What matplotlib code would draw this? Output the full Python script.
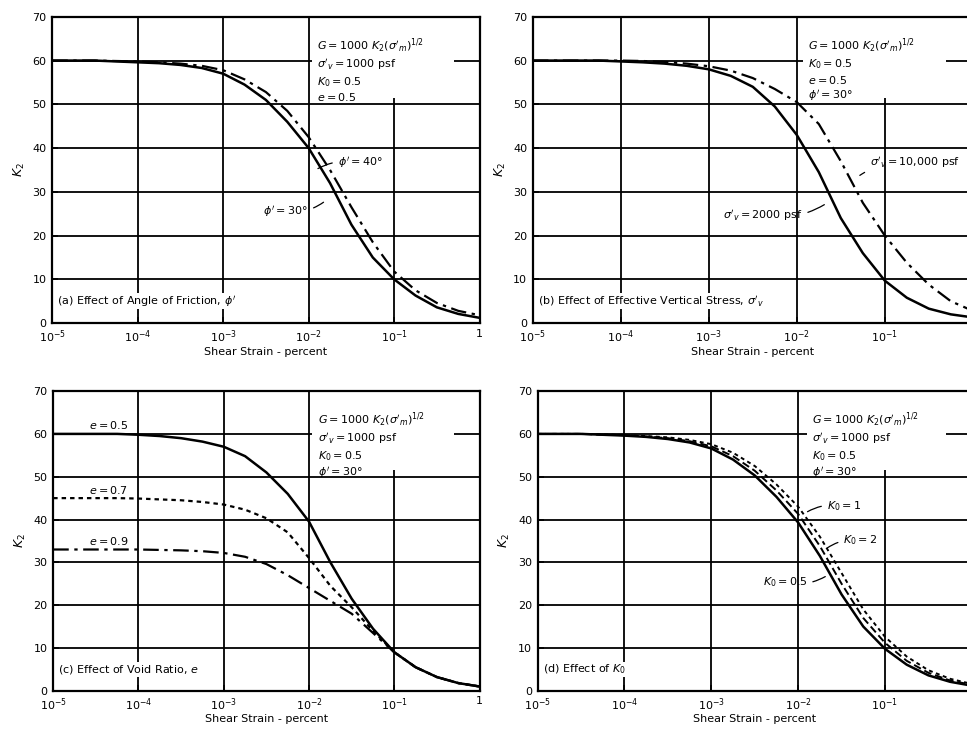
# -*- coding: utf-8 -*-
# K2 versus shear strain, four parametric panels

from matplotlib import pyplot as plt
from matplotlib.patches import Rectangle

# shear strain exponents (percent = 10**x)
log_strain = [-5, -4.75, -4.5, -4.25, -4, -3.75, -3.5, -3.25, -3, -2.75, -2.5,
              -2.25, -2, -1.75, -1.5, -1.25, -1, -0.75, -0.5, -0.25, 0]

# (a) angle of friction
k2_phi30 = [60, 60, 60, 59.8, 59.6, 59.4, 59, 58.3, 57, 54.5, 51, 46, 40, 32,
            22.5, 15, 10, 6.3, 3.6, 2.1, 1.2]
k2_phi40 = [60, 60, 60, 59.9, 59.8, 59.6, 59.3, 58.8, 57.8, 55.7, 52.8, 48.5,
            42.5, 35, 26.5, 18.5, 11.8, 7.5, 4.6, 2.8, 1.8]

# (b) effective vertical stress
k2_sv2000 = [60, 60, 60, 60, 59.8, 59.6, 59.3, 58.8, 58, 56.5, 54, 49.5, 43,
             34.5, 24, 16, 9.7, 5.8, 3.3, 2, 1.3]
k2_sv10000 = [60, 60, 60, 60, 60, 59.9, 59.7, 59.3, 58.7, 57.7, 56, 53.5, 50.5,
              45.5, 37, 27.5, 20, 13.8, 8.8, 5, 2.8]

# (c) void ratio
k2_e05 = [60, 60, 60, 60, 59.8, 59.5, 59, 58.2, 57, 54.8, 51, 46, 39.5, 30,
          21.5, 14.5, 9, 5.5, 3.2, 1.8, 1]
k2_e07 = [45, 45, 45, 45, 44.9, 44.7, 44.5, 44.1, 43.5, 42.3, 40.3, 37, 31,
          24.5, 19.5, 14, 9, 5.5, 3.2, 1.8, 1]
k2_e09 = [33, 33, 33, 33, 33, 32.9, 32.8, 32.6, 32.2, 31.3, 29.6, 27, 24, 21,
          18, 13.5, 9, 5.5, 3.2, 1.8, 1]

# (d) K0
k2_k05 = [60, 60, 60, 59.8, 59.6, 59.3, 58.8, 58, 56.6, 54, 50.3, 45.3, 39.3,
          31.5, 22.5, 15, 9.8, 6.1, 3.6, 2.1, 1.2]
k2_k1 = [60, 60, 60, 59.8, 59.7, 59.4, 59, 58.3, 57.1, 54.8, 51.4, 46.8, 41.3,
         33.8, 25, 17, 11.2, 7, 4.2, 2.4, 1.4]
k2_k2 = [60, 60, 60, 59.9, 59.7, 59.5, 59.2, 58.6, 57.6, 55.6, 52.5, 48.2, 43,
         36, 27.5, 19, 12.6, 8, 4.8, 2.8, 1.6]

xtick_exp = [-5, -4, -3, -2, -1, 0]
xtick_labels = ['$10^{-5}$', '$10^{-4}$', '$10^{-3}$', '$10^{-2}$', '$10^{-1}$', '1']
yticks = [0, 10, 20, 30, 40, 50, 60, 70]

G_TXT = r"$G = 1000\ K_2(\sigma'_m)^{1/2}$"
SV_TXT = r"$\sigma'_v = 1000$ psf"
K0_TXT = r"$K_0 = 0.5$"
E_TXT = r"$e = 0.5$"
PHI_TXT = r"$\phi' = 30°$"

DASHDOT = (0, (7, 2.5, 1.5, 2.5))
DOTTED = (0, (2, 1.8))
DASHED = (0, (4, 2))


def setup_axes(ax, show_one=True):
    ax.set_xscale('log')
    ax.set_xlim(1e-5, 1)
    ax.set_ylim(0, 70)
    ax.set_xticks([10.0 ** e for e in xtick_exp])
    labels = list(xtick_labels)
    if not show_one:
        labels[-1] = ''
    ax.set_xticklabels(labels)
    ax.xaxis.set_minor_locator(plt.NullLocator())
    ax.set_yticks(yticks)
    ax.tick_params(direction='in', length=4, width=1.2, labelsize=8)
    ax.tick_params(axis='x', pad=4)
    ax.tick_params(axis='y', pad=4)
    ax.grid(color='black', linewidth=1.3)
    for sp in ax.spines.values():
        sp.set_linewidth(1.6)
    ax.set_xlabel('Shear Strain - percent', fontsize=8, labelpad=1)
    ax.set_ylabel('$K_2$', fontsize=9, labelpad=4)


def params(ax, lines, xlog):
    # white patch breaks the grid behind the parameter block
    ax.add_patch(Rectangle((10.0 ** (xlog - 0.06), 51.5),
                           10.0 ** (-0.3) - 10.0 ** (xlog - 0.06), 18.3,
                           facecolor='white', edgecolor='none', zorder=2.5))
    ax.text(10.0 ** xlog, 65.5, '\n'.join(lines), fontsize=8, va='top',
            ha='left', linespacing=1.25, zorder=3)


def label(ax, text, xy_exp, txt_exp, ha='left'):
    ax.annotate(text, xy=(10.0 ** xy_exp[0], xy_exp[1]),
                xytext=(10.0 ** txt_exp[0], txt_exp[1]), fontsize=8,
                ha=ha, va='center', zorder=4,
                arrowprops=dict(arrowstyle='-', lw=0.9, color='black',
                                connectionstyle='arc3,rad=0.2'))


def caption(ax, text):
    ax.text(1.15e-5, 5, text, fontsize=8, va='center', ha='left', zorder=4,
            bbox=dict(facecolor='white', edgecolor='none', pad=0.5))


fig = plt.figure(figsize=(9.67, 7.31), dpi=100)
strain = [10.0 ** e for e in log_strain]

# (a)
ax = fig.add_axes([0.054, 0.558, 0.442, 0.419])
setup_axes(ax)
ax.plot(strain, k2_phi30, color='black', lw=1.8, zorder=3)
ax.plot(strain, k2_phi40, color='black', lw=1.6, ls=DASHDOT, zorder=3)
params(ax, [G_TXT, SV_TXT, K0_TXT, E_TXT], -1.9)
label(ax, r"$\phi' = 40°$", (-1.92, 35), (-1.66, 36.6))
label(ax, r"$\phi' = 30°$", (-1.80, 28), (-2.53, 25.4))
caption(ax, r"(a) Effect of Angle of Friction, $\phi'$")

# (b)
ax = fig.add_axes([0.551, 0.558, 0.455, 0.419])
setup_axes(ax, show_one=False)
ax.plot(strain, k2_sv2000, color='black', lw=1.8, zorder=3)
ax.plot(strain, k2_sv10000, color='black', lw=1.6, ls=DASHDOT, zorder=3)
params(ax, [G_TXT, K0_TXT, E_TXT, PHI_TXT], -1.87)
label(ax, r"$\sigma'_v = 10{,}000$ psf", (-1.31, 33.4), (-1.17, 36.6))
label(ax, r"$\sigma'_v = 2000$ psf", (-1.66, 27.4), (-2.84, 24.7))
caption(ax, r"(b) Effect of Effective Vertical Stress, $\sigma'_v$")

# (c)
ax = fig.add_axes([0.055, 0.055, 0.441, 0.41])
setup_axes(ax)
ax.plot(strain, k2_e05, color='black', lw=1.8, zorder=3)
ax.plot(strain, k2_e07, color='black', lw=1.6, ls=DOTTED, zorder=3)
ax.plot(strain, k2_e09, color='black', lw=1.6, ls=DASHDOT, zorder=3)
params(ax, [G_TXT, SV_TXT, K0_TXT, PHI_TXT], -1.9)
for txt, yv in [('$e = 0.5$', 60), ('$e = 0.7$', 45), ('$e = 0.9$', 33)]:
    ax.text(10.0 ** -4.35, yv + 0.6, txt, fontsize=8, ha='center', va='bottom',
            zorder=4, bbox=dict(facecolor='white', edgecolor='none', pad=0.3))
caption(ax, '(c) Effect of Void Ratio, $e$')

# (d)
ax = fig.add_axes([0.556, 0.055, 0.449, 0.41])
setup_axes(ax, show_one=False)
ax.plot(strain, k2_k05, color='black', lw=1.8, zorder=3)
ax.plot(strain, k2_k1, color='black', lw=1.4, ls=DASHED, zorder=3)
ax.plot(strain, k2_k2, color='black', lw=1.4, ls=DOTTED, zorder=3)
params(ax, [G_TXT, SV_TXT, K0_TXT, PHI_TXT], -1.84)
label(ax, '$K_0 = 1$', (-1.92, 41.5), (-1.67, 43.1))
label(ax, '$K_0 = 2$', (-1.69, 33), (-1.48, 35.2))
label(ax, '$K_0 = 0.5$', (-1.66, 27), (-2.41, 25.3))
caption(ax, '(d) Effect of $K_0$')

plt.savefig('out.png', dpi=100)
